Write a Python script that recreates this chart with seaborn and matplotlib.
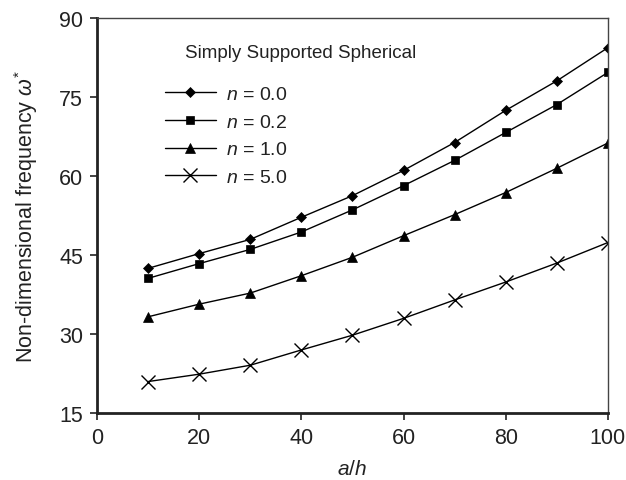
import numpy as np
import pandas as pd
import matplotlib.pyplot as plt
import seaborn as sns

# Data
a_h = [10, 20, 30, 40, 50, 60, 70, 80, 90, 100]
n_00 = [42.5, 45.3, 48.0, 52.2, 56.3, 61.1, 66.4, 72.5, 78.1, 84.4]
n_02 = [40.6, 43.4, 46.1, 49.4, 53.6, 58.2, 63.0, 68.3, 73.6, 79.7]
n_10 = [33.3, 35.7, 37.8, 41.1, 44.6, 48.7, 52.7, 56.9, 61.5, 66.3]
n_50 = [21.0, 22.4, 24.1, 27.0, 29.8, 33.0, 36.5, 39.9, 43.5, 47.4]
labels = ['$n$ = 0.0', '$n$ = 0.2', '$n$ = 1.0', '$n$ = 5.0']

df = pd.DataFrame({'a/h': a_h * 4,
                   'freq': n_00 + n_02 + n_10 + n_50,
                   'series': np.repeat(labels, len(a_h))})

sns.set_style('ticks')
plt.rcParams['font.family'] = ['Liberation Sans', 'DejaVu Sans']
plt.rcParams['mathtext.fontset'] = 'custom'
plt.rcParams['mathtext.it'] = 'Liberation Sans:italic'
plt.rcParams['mathtext.rm'] = 'Liberation Sans'

fig = plt.figure(figsize=(6.26, 4.81), dpi=100)
ax = fig.add_axes([0.155, 0.139, 0.816, 0.821])

markers = {labels[0]: 'D', labels[1]: 's', labels[2]: '^', labels[3]: 'x'}
sizes = {labels[0]: 5, labels[1]: 6, labels[2]: 7, labels[3]: 10}
for lab in labels:
    sub = df[df['series'] == lab]
    sns.lineplot(data=sub, x='a/h', y='freq', ax=ax, color='black', linewidth=1,
                 marker=markers[lab], markersize=sizes[lab],
                 markeredgewidth=1 if lab == labels[3] else 0.5,
                 markeredgecolor='black', label=lab)

ax.set_xlim(0, 100)
ax.set_ylim(15, 90)
ax.set_xticks([0, 20, 40, 60, 80, 100])
ax.set_yticks([15, 30, 45, 60, 75, 90])
ax.tick_params(axis='both', labelsize=15.5, length=5, width=1.2, pad=5,
               color='#222222', labelcolor='#222222')
for s in ['left', 'bottom']:
    ax.spines[s].set_linewidth(2)
    ax.spines[s].set_color('#222222')
for s in ['top', 'right']:
    ax.spines[s].set_linewidth(1)
    ax.spines[s].set_color('#444444')

ax.set_xlabel('$a/h$', fontsize=15, color='#222222', labelpad=8)
ax.set_ylabel(r'Non-dimensional frequency $\omega^{*}$', fontsize=15.5, color='#222222', labelpad=14)

# legend title drawn separately (it is indented relative to the handles)
ax.text(0.172, 0.912, 'Simply Supported Spherical', transform=ax.transAxes,
        fontsize=13.5, color='#222222', va='center', ha='left')
leg = ax.legend(loc='upper left', bbox_to_anchor=(0.118, 0.85),
                frameon=False, fontsize=14, handlelength=2.6,
                handletextpad=0.55, labelspacing=0.52, borderaxespad=0)
for t in leg.get_texts():
    t.set_color('#222222')

fig.savefig('out.png', dpi=100)
